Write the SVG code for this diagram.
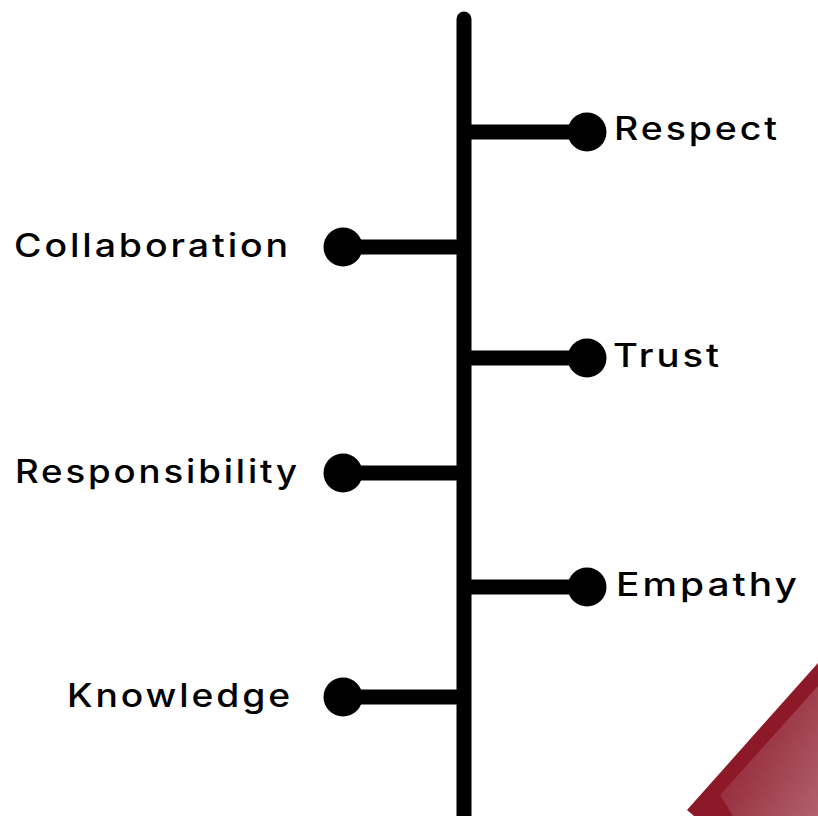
<svg xmlns="http://www.w3.org/2000/svg" width="818" height="816" viewBox="0 0 818 816">
  <defs>
    <linearGradient id="facet" x1="720" y1="760" x2="818" y2="816" gradientUnits="userSpaceOnUse">
      <stop offset="0" stop-color="#922636"/>
      <stop offset="1" stop-color="#b2616d"/>
    </linearGradient>
    <style>
      .spine, .branch { stroke: #000; stroke-width: 15; fill: none; }
      .spine { stroke-linecap: round; }
      .dot { fill: #000; }
      .label { font-family: Inter, "Liberation Sans", sans-serif; font-size: 32px; font-weight: 500; letter-spacing: 2.5px; fill: #000; }
    </style>
  </defs>
  <rect width="818" height="816" fill="#fff"/>

  <!-- corner ornament -->
  <g id="ornament">
    <polygon points="687,810 818,663 818,816 694,816" fill="#8d1828"/>
    <polygon points="720,795 818,686 818,816 733,816" fill="url(#facet)"/>
  </g>

  <!-- connectors: spine and branches -->
  <g id="connectors">
    <line class="spine" x1="464" y1="19" x2="464" y2="830"/>
    <line class="branch" x1="464" y1="132" x2="587" y2="132"/>
    <line class="branch" x1="343" y1="247" x2="464" y2="247"/>
    <line class="branch" x1="464" y1="358" x2="587" y2="358"/>
    <line class="branch" x1="343" y1="473" x2="464" y2="473"/>
    <line class="branch" x1="464" y1="587" x2="587" y2="587"/>
    <line class="branch" x1="343" y1="697" x2="464" y2="697"/>
  </g>

  <g id="respect">
    <circle class="dot" cx="587" cy="132" r="19.5"/>
    <text class="label" x="614" y="140" textLength="166" lengthAdjust="spacingAndGlyphs">Respect</text>
  </g>
  <g id="collaboration">
    <circle class="dot" cx="343" cy="247" r="19.5"/>
    <text class="label" x="14" y="257" textLength="277" lengthAdjust="spacingAndGlyphs">Collaboration</text>
  </g>
  <g id="trust">
    <circle class="dot" cx="587" cy="358" r="19.5"/>
    <text class="label" x="613" y="367" textLength="109" lengthAdjust="spacingAndGlyphs">Trust</text>
  </g>
  <g id="responsibility">
    <circle class="dot" cx="343" cy="473" r="19.5"/>
    <text class="label" x="15" y="483" textLength="285" lengthAdjust="spacingAndGlyphs">Responsibility</text>
  </g>
  <g id="empathy">
    <circle class="dot" cx="587" cy="587" r="19.5"/>
    <text class="label" x="616" y="596" textLength="184" lengthAdjust="spacingAndGlyphs">Empathy</text>
  </g>
  <g id="knowledge">
    <circle class="dot" cx="343" cy="697" r="19.5"/>
    <text class="label" x="67" y="707" textLength="226" lengthAdjust="spacingAndGlyphs">Knowledge</text>
  </g>
</svg>
